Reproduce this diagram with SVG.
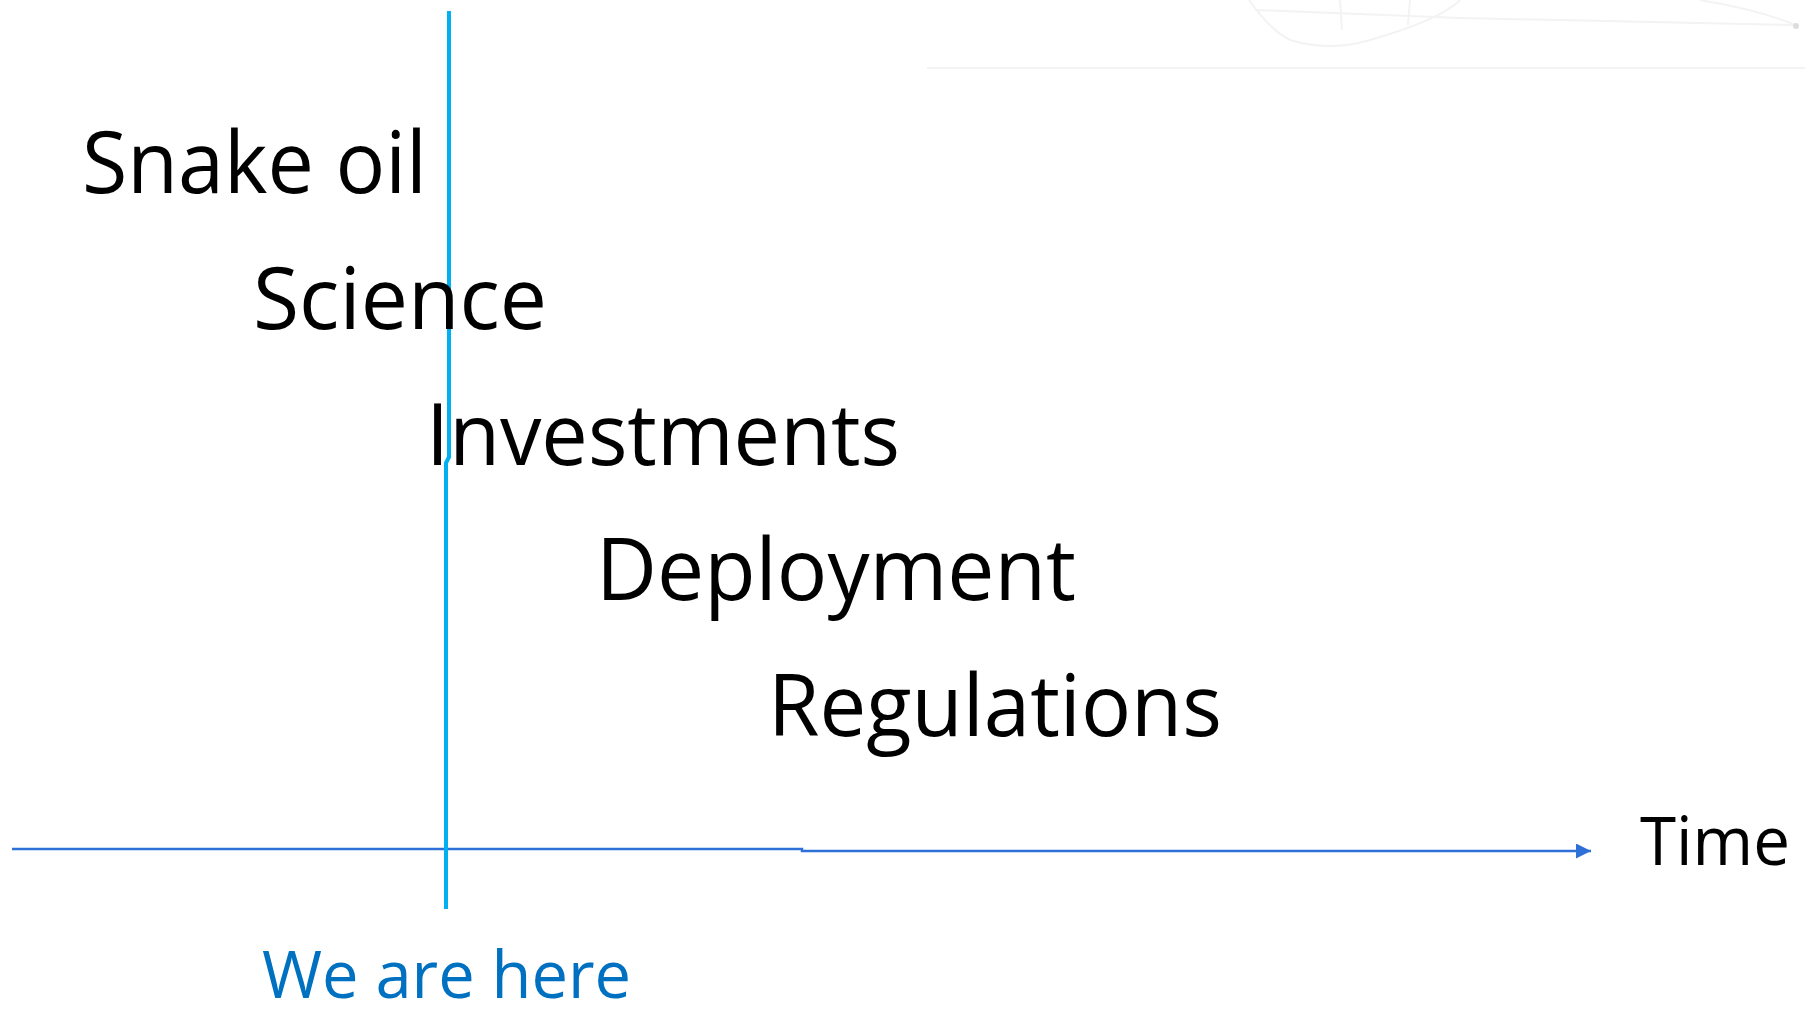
<svg xmlns="http://www.w3.org/2000/svg" width="1805" height="1016" viewBox="0 0 1805 1016">
<style>
.lbl{font-family:"Open Sans","Noto Sans","Liberation Sans",sans-serif;fill:#000000;}
.big{font-size:86px;}
.time{font-size:67px;}
.here{font-family:"Open Sans","Noto Sans","Liberation Sans",sans-serif;font-size:66px;fill:#0070C0;}
.faint{fill:none;stroke:#f3f3f3;stroke-width:2;}
</style>
<defs>
<marker id="arrow" markerWidth="16" markerHeight="16" refX="15" refY="7.5" orient="auto" markerUnits="userSpaceOnUse">
<path d="M0,0 L15,7.5 L0,15 Z" fill="#2F6FD8"/>
</marker>
</defs>
<rect width="1805" height="1016" fill="#ffffff"/>
<g id="background-decoration">
<line class="faint" x1="927" y1="68" x2="1805" y2="68"/>
<path class="faint" d="M1249,0 Q1270,30 1290,40 Q1330,52 1370,40 Q1440,20 1460,0"/>
<path class="faint" d="M1255,10 L1460,18 L1795,25"/>
<path class="faint" d="M1340,0 L1342,30 M1410,0 L1408,25"/>
<path class="faint" d="M1700,0 Q1760,10 1795,25"/>
<circle cx="1796" cy="26" r="3" fill="#dddddd"/>
</g>
<g id="connectors">
<polyline points="12,849 802,849 802,851 1591,851" fill="none" stroke="#2F6FD8" stroke-width="2.5" marker-end="url(#arrow)"/>
<polyline points="449,11 449,457 446,463 446,909" fill="none" stroke="#00B0F0" stroke-width="4"/>
</g>
<g id="node-snake-oil"><text class="lbl big" x="82" y="193" textLength="345" lengthAdjust="spacingAndGlyphs">Snake oil</text></g>
<g id="node-science"><text class="lbl big" x="253" y="329" textLength="294" lengthAdjust="spacingAndGlyphs">Science</text></g>
<g id="node-investments"><text class="lbl big" x="426" y="465" textLength="474" lengthAdjust="spacingAndGlyphs">Investments</text></g>
<g id="node-deployment"><text class="lbl big" x="596" y="600" textLength="480" lengthAdjust="spacingAndGlyphs">Deployment</text></g>
<g id="node-regulations"><text class="lbl big" x="768" y="736" textLength="454" lengthAdjust="spacingAndGlyphs">Regulations</text></g>
<g id="node-time"><text class="lbl time" x="1640" y="865" textLength="150" lengthAdjust="spacingAndGlyphs">Time</text></g>
<g id="node-we-are-here"><text class="here" x="262" y="998" textLength="369" lengthAdjust="spacingAndGlyphs">We are here</text></g>
</svg>
